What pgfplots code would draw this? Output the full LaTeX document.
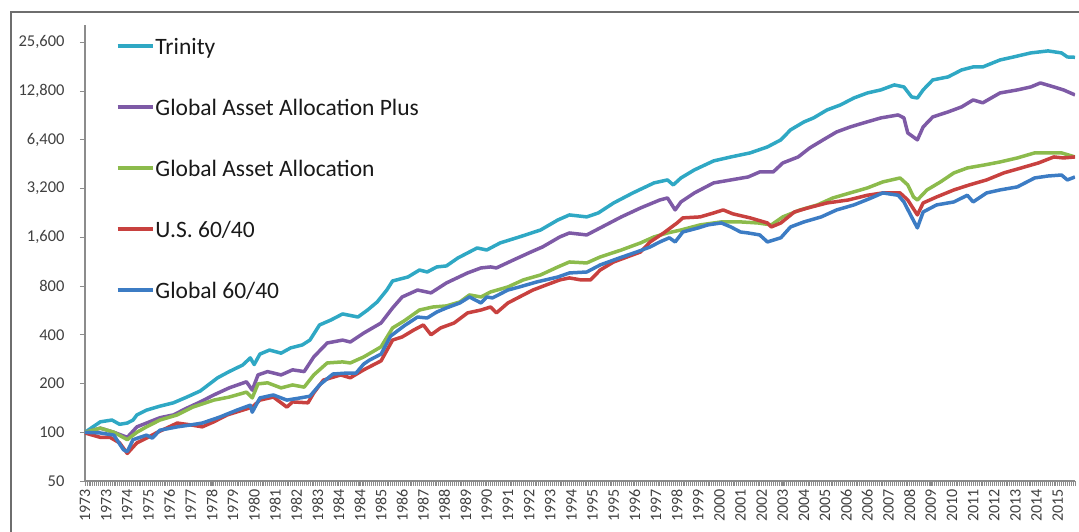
\documentclass[border=0pt]{standalone}
\usepackage{fontspec}
\setmainfont{Carlito}
\usepackage{pgfplots}
\pgfplotsset{compat=1.18}
\definecolor{ctri}{HTML}{2FA8C4}
\definecolor{cgaap}{HTML}{7E5AA6}
\definecolor{cgaa}{HTML}{8CBB4C}
\definecolor{cus}{HTML}{C8413F}
\definecolor{cglob}{HTML}{3C7CC4}
\definecolor{axisgray}{HTML}{8C8C8C}
\definecolor{labelgray}{HTML}{404040}
\definecolor{framegray}{HTML}{6E6E6E}
\begin{document}
\begin{tikzpicture}[x=1pt,y=1pt]
\useasboundingbox (0,0) rectangle (1079,531);
\draw[color=framegray, line width=1.3pt] (11,-5) -- (11,519) -- (1090,519);
\begin{axis}[
  at={(85pt,50pt)}, anchor=south west,
  scale only axis, width=990pt, height=456pt,
  xmin=0, xmax=515,
  ymode=log, log basis y=2, ymin=50, ymax=32768,
  axis x line*=bottom, axis y line*=left,
  axis line style={draw=axisgray, line width=1.3pt, -},
  xtick={0,11,...,506},
  xticklabels={1973,1973,1974,1975,1976,1977,1978,1979,1980,1981,1982,1983,1984,1984,1985,1986,1987,1988,1989,1990,1991,1992,1993,1994,1995,1995,1996,1997,1998,1999,2000,2001,2002,2003,2004,2005,2006,2006,2007,2008,2009,2010,2011,2012,2013,2014,2015},
  minor xtick={0,1,...,515},
  tick align=outside,
  major tick length=5pt, minor tick length=5pt,
  major tick style={draw=axisgray, line width=0.8pt},
  minor tick style={draw=axisgray, line width=0.6pt},
  xticklabel style={rotate=90, anchor=east, font=\fontsize{16}{18}\selectfont, text=labelgray},
  ytick={50,100,200,400,800,1600,3200,6400,12800,25600},
  yticklabels={50,100,200,400,800,{1,600},{3,200},{6,400},{12,800},{25,600}},
  yticklabel style={font=\fontsize{16.5}{18}\selectfont, text=labelgray, xshift=-12pt},
  /pgf/number format/assume math mode=true,
  legend style={draw=none, fill=none, at={(axis description cs:0.0313,0.979)}, anchor=north west,
    inner sep=0pt, outer sep=0pt, row sep=38.7pt, font=\fontsize{23.5}{27}\selectfont, text=black!90,
    nodes={inner sep=1pt}},
  legend cell align=left,
  legend image code/.code={\draw[#1, line width=3.5pt] (0pt,0pt) -- (35pt,0pt);},
  every axis plot/.append style={line width=3.5pt, line join=round},
]
\addplot[ctri] coordinates {(0,100) (8,116) (14,119) (18,112) (22,114) (25,119) (27,128) (32,137) (39,145) (46,152) (53,165) (60,180) (69,217) (75,237) (82,260) (86,288) (88,262) (91,304) (96,322) (102,308) (107,332) (113,346) (117,371) (122,460) (128,494) (134,538) (142,515) (147,569) (152,638) (157,756) (160,860) (168,910) (174,1005) (178,977) (183,1050) (188,1065) (194,1193) (204,1375) (209,1336) (216,1478) (226,1609) (237,1776) (246,2048) (252,2200) (261,2139) (267,2262) (275,2608) (285,3008) (296,3469) (303,3619) (306,3370) (310,3722) (317,4173) (327,4742) (336,5018) (346,5315) (355,5786) (362,6400) (367,7373) (374,8256) (379,8742) (386,9792) (393,10515) (400,11610) (407,12467) (414,13018) (421,13978) (426,13581) (430,11782) (433,11600) (436,13018) (441,15002) (449,15667) (456,17293) (462,18048) (467,18048) (476,19930) (483,20800) (492,22029) (501,22669) (508,22029) (511,20800) (515,20700)};
\addlegendentry{\strut Trinity}
\addplot[cgaap] coordinates {(0,100) (8,106) (15,100) (22,93) (27,108) (32,114) (39,123) (46,128) (53,141) (60,154) (67,170) (75,188) (84,205) (87,182) (90,226) (95,237) (102,226) (108,243) (114,237) (119,292) (126,356) (134,371) (138,361) (145,410) (154,473) (160,586) (165,685) (173,756) (180,726) (188,836) (199,964) (206,1035) (211,1050) (214,1035) (223,1161) (232,1299) (238,1395) (247,1609) (252,1702) (261,1655) (268,1829) (279,2139) (289,2429) (299,2720) (303,2800) (307,2362) (310,2646) (317,3008) (327,3469) (336,3619) (345,3776) (351,4054) (358,4054) (363,4608) (371,5018) (377,5702) (384,6400) (391,7162) (398,7686) (405,8141) (414,8742) (423,9120) (426,8742) (428,7059) (433,6400) (436,7686) (441,8864) (449,9523) (456,10221) (462,11290) (467,10835) (476,12467) (485,13018) (492,13581) (497,14374) (504,13581) (509,13018) (515,12122)};
\addlegendentry{\strut Global Asset Allocation Plus}
\addplot[cgaa] coordinates {(0,100) (8,106) (15,100) (22,90) (27,100) (32,108) (39,119) (48,128) (56,143) (67,158) (75,165) (84,177) (87,163) (90,199) (95,202) (102,188) (108,196) (114,190) (119,226) (126,268) (134,272) (138,268) (145,292) (154,337) (160,441) (166,487) (174,569) (181,594) (188,603) (195,638) (200,705) (206,685) (211,736) (220,790) (228,873) (237,937) (246,1050) (252,1127) (261,1111) (268,1210) (279,1336) (289,1478) (296,1609) (303,1702) (310,1776) (320,1909) (331,1992) (341,1992) (350,1963) (357,1909) (363,2139) (372,2362) (381,2536) (389,2800) (398,3008) (407,3229) (415,3517) (424,3722) (428,3370) (431,2840) (433,2720) (438,3139) (445,3517) (452,4000) (459,4291) (468,4480) (476,4672) (485,4947) (494,5315) (501,5315) (508,5315) (515,5018)};
\addlegendentry{\strut Global Asset Allocation}
\addplot[cus] coordinates {(0,99) (8,93) (13,93) (18,86) (22,74) (27,86) (32,92) (37,99) (48,114) (55,111) (61,108) (67,116) (74,128) (82,137) (87,143) (91,158) (98,165) (105,143) (108,154) (116,152) (119,175) (124,210) (133,226) (138,217) (145,243) (154,276) (160,371) (165,388) (171,428) (176,460) (180,400) (185,441) (192,473) (199,546) (206,569) (211,594) (214,546) (220,629) (226,685) (233,756) (240,813) (247,873) (252,898) (258,873) (263,873) (268,1005) (275,1127) (282,1210) (289,1299) (294,1498) (301,1702) (308,1963) (311,2109) (320,2139) (327,2262) (332,2362) (337,2234) (346,2109) (355,1963) (357,1854) (362,1963) (369,2294) (376,2429) (386,2608) (397,2720) (407,2910) (415,3008) (424,3008) (428,2720) (433,2200) (436,2608) (443,2840) (452,3139) (460,3370) (469,3619) (478,4000) (487,4291) (496,4608) (504,5018) (509,4947) (515,5018)};
\addlegendentry{\strut U.S. 60/40}
\addplot[cglob] coordinates {(0,100) (8,99) (15,96) (20,78) (22,76) (25,90) (32,96) (35,92) (39,103) (48,108) (55,111) (61,114) (70,124) (79,137) (86,147) (87,133) (91,163) (98,170) (105,158) (112,163) (117,167) (122,196) (129,229) (136,232) (141,232) (145,264) (148,279) (154,304) (159,393) (166,454) (173,515) (178,508) (183,553) (188,586) (195,629) (200,685) (206,629) (209,685) (212,676) (220,756) (226,790) (235,848) (246,910) (252,964) (261,977) (268,1080) (278,1193) (287,1299) (294,1395) (299,1498) (304,1589) (307,1498) (311,1726) (319,1829) (324,1909) (331,1963) (336,1854) (341,1726) (345,1702) (351,1655) (355,1498) (362,1590) (367,1854) (374,1992) (383,2139) (391,2362) (400,2536) (409,2800) (415,3008) (423,2910) (426,2646) (430,2139) (433,1829) (436,2294) (443,2536) (452,2646) (459,2910) (462,2646) (469,3008) (476,3139) (485,3277) (494,3722) (501,3827) (508,3882) (511,3619) (515,3776)};
\addlegendentry{\strut Global 60/40}
\end{axis}
\end{tikzpicture}
\end{document}
